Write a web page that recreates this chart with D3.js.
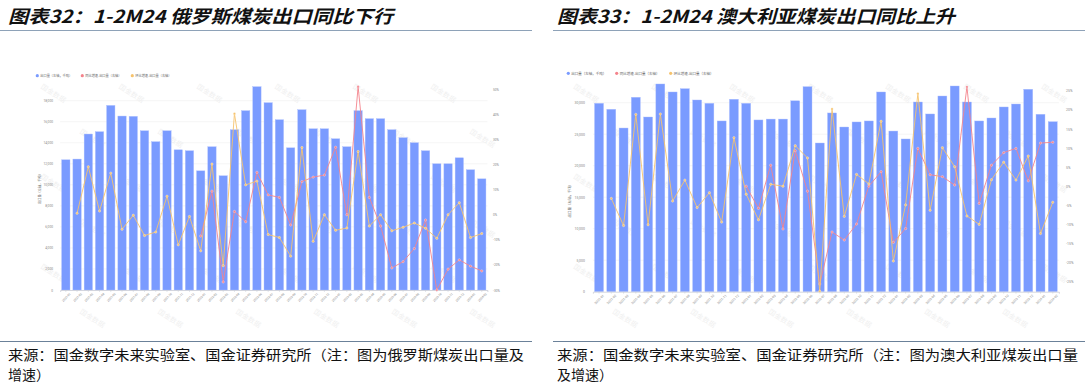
<!DOCTYPE html>
<html>
<head>
<meta charset="utf-8">
<script src="https://cdn.jsdelivr.net/npm/d3@7/dist/d3.min.js"></script>
<style>
body { margin: 0; background: #fff; }
svg text { font-family: "Noto Sans CJK SC", "Noto Sans", sans-serif; }
</style>
</head>
<body>
<div id="chart"></div>
<script>
// months on the x axis (same for both charts)
const months = ["2021-01","2021-02","2021-03","2021-04","2021-05","2021-06","2021-07","2021-08","2021-09","2021-10","2021-11","2021-12",
    "2022-01","2022-02","2022-03","2022-04","2022-05","2022-06","2022-07","2022-08","2022-09","2022-10","2022-11","2022-12",
    "2023-01","2023-02","2023-03","2023-04","2023-05","2023-06","2023-07","2023-08","2023-09","2023-10","2023-11","2023-12",
    "2024-01","2024-02"];

// Russia coal exports, kt
const russiaExport = [12380,12450,14830,15050,17550,16540,16510,15140,14100,15140,13330,13240,
    11330,13620,10860,15240,17050,19330,17810,16190,13520,17140,15330,15330,
    14380,13620,17050,16290,16290,15240,14480,14000,13240,12000,12000,12570,
    11430,10570];
// YoY %, right axis
const russiaYoY = [null,null,null,null,null,null,null,null,null,null,null,null,
    -8.5,9.4,-26.8,1.3,-2.8,16.9,7.9,6.9,-4.1,13.2,15.0,15.8,
    26.9,0.0,51.0,6.9,-4.5,-21.2,-18.7,-13.5,-2.1,-30.0,-21.7,-18.0,
    -20.5,-22.4];
// MoM %, right axis
const russiaMoM = [null,0.6,19.1,1.5,16.6,-5.8,-0.2,-8.3,-6.9,7.4,-12.0,-0.7,
    -14.4,20.2,-20.3,40.3,11.9,13.4,-7.9,-9.1,-16.5,26.8,-10.6,0.0,
    -6.2,-5.3,25.2,-4.5,0.0,-6.4,-5.0,-3.3,-5.4,-9.4,0.0,4.8,
    -9.1,-7.5];

// Australia coal exports, kt
const australiaExport = [29900,28950,25980,30860,27730,32970,31700,32220,30430,29900,27100,30540,
    29900,27260,27400,27400,30300,32540,23600,28370,26140,26940,27100,31700,
    25500,24240,30110,28210,31060,32650,30110,27100,27570,29320,29790,32130,
    28160,26980];
const australiaYoY = [null,null,null,null,null,null,null,null,null,null,null,null,
    0.0,-5.8,5.5,-11.2,9.3,-1.3,-25.6,-12.0,-14.1,-9.9,0.0,3.8,
    -14.7,-11.1,9.9,3.0,2.5,0.3,26.0,-4.5,5.5,8.8,9.9,1.4,
    11.3,11.5];
const australiaMoM = [null,-3.2,-10.3,18.8,-10.1,18.9,-3.9,1.6,-5.6,-1.7,-9.4,12.7,
    -2.1,-8.8,0.5,0.0,10.6,7.4,-27.5,20.2,-7.9,3.1,0.6,17.0,
    -19.6,-4.9,24.2,-6.3,10.1,5.1,-7.8,-10.0,1.7,6.3,1.6,7.9,
    -12.4,-4.2];

// axis ticks
const russiaLeftTicks = [0,2000,4000,6000,8000,10000,12000,14000,16000,18000];
const russiaRightTicks = [-30,-20,-10,0,10,20,30,40,50];
const australiaLeftTicks = [0,5000,10000,15000,20000,25000,30000];
const australiaRightTicks = [-25,-20,-15,-10,-5,0,5,10,15,20,25];

const legendNames = ["出口量（左轴，千吨）", "同比增速-出口量（右轴）", "环比增速-出口量（右轴）"];
const yTitle = "出口量（左轴，千吨）";

const BAR_COLOR = "#7a9bff", YOY_COLOR = "#f4838c", MOM_COLOR = "#f6c36d";

const svg = d3.select("#chart").append("svg")
    .attr("width", 1085)
    .attr("height", 385);

function drawPanel(p) {
    let g = svg.append("g");

    // title + rules
    g.append("text")
        .attr("x", p.px)
        .attr("y", 23)
        .attr("textLength", p.titleLen)
        .attr("lengthAdjust", "spacingAndGlyphs")
        .style("font-size", "18px")
        .style("font-weight", "bold")
        .style("font-style", "italic")
        .style("fill", "#111")
        .text(p.title);
    g.append("line")
        .attr("x1", p.lineX0).attr("x2", p.lineX1)
        .attr("y1", 30.5).attr("y2", 30.5)
        .attr("stroke", "#8ea2b8").attr("stroke-width", 1.2);
    g.append("line")
        .attr("x1", p.lineX0).attr("x2", p.lineX1)
        .attr("y1", 341.5).attr("y2", 341.5)
        .attr("stroke", "#6b8199").attr("stroke-width", 1);
    g.append("text")
        .attr("x", p.px)
        .attr("y", 360)
        .attr("textLength", p.srcLen)
        .attr("lengthAdjust", "spacingAndGlyphs")
        .style("font-size", "14px")
        .style("fill", "#111")
        .text(p.src1);
    g.append("text")
        .attr("x", p.px)
        .attr("y", 380)
        .style("font-size", "14px")
        .style("fill", "#111")
        .text(p.src2);

    // watermarks
    let wm = g.append("g");
    for (let r = 0; r < 6; r++) {
        for (let c = 0; c < 7; c++) {
            let wx = p.x0 - 20 + c * 78 + (r % 2) * 39;
            let wy = 88 + r * 45;
            if (wx > p.x1 + 20) continue;
            wm.append("text")
                .attr("transform", `translate(${wx}, ${wy}) rotate(32)`)
                .style("font-size", "7px")
                .style("fill", "#8a8a8a")
                .style("opacity", 0.13)
                .text("国金数据");
        }
    }

    let x = d3.scaleBand()
        .domain(months)
        .range([p.x0, p.x1])
        .paddingInner(p.pad)
        .paddingOuter(p.pad / 2);
    let yL = d3.scaleLinear().domain(p.leftDomain).range(p.leftRange);
    let yR = d3.scaleLinear().domain(p.rightDomain).range(p.rightRange);

    // gridlines
    g.append("g").selectAll("line")
        .data(p.leftTicks.slice(1))
        .enter()
        .append("line")
        .attr("x1", p.x0).attr("x2", p.x1)
        .attr("y1", d => yL(d)).attr("y2", d => yL(d))
        .attr("stroke", "#efefef").attr("stroke-width", 0.6);

    // left axis
    let axL = g.append("g")
        .attr("transform", `translate(${p.leftLabelX}, 0)`)
        .call(d3.axisLeft(yL).tickValues(p.leftTicks).tickSize(0).tickPadding(0).tickFormat(d3.format(",")));
    axL.select(".domain").remove();
    axL.selectAll("text").style("font-size", p.fs + "px").style("fill", "#888").style("font-family", "Roboto, sans-serif");

    // right axis
    let axR = g.append("g")
        .attr("transform", `translate(${p.rightLabelX}, 0)`)
        .call(d3.axisRight(yR).tickValues(p.rightTicks).tickSize(0).tickPadding(0).tickFormat(d => d + "%"));
    axR.select(".domain").remove();
    axR.selectAll("text").style("font-size", p.fs + "px").style("fill", "#888").style("font-family", "Roboto, sans-serif");

    // bars
    g.append("g").selectAll("rect")
        .data(p.exports)
        .enter()
        .append("rect")
        .attr("x", (d, i) => x(months[i]))
        .attr("y", d => yL(d))
        .attr("width", x.bandwidth())
        .attr("height", d => yL(0) - yL(d))
        .attr("fill", BAR_COLOR)
        .attr("stroke", "#a9bcff")
        .attr("stroke-width", 0.4);

    // x axis
    let axX = g.append("g")
        .attr("transform", `translate(0, ${yL(0)})`)
        .call(d3.axisBottom(x).tickSize(2).tickPadding(1));
    axX.select(".domain").attr("stroke", "#c9ccd6").attr("stroke-width", 0.8);
    axX.selectAll(".tick line").attr("stroke", "#c9ccd6").attr("stroke-width", 0.5);
    axX.selectAll("text")
        .style("font-size", (p.fs - 0.2) + "px")
        .style("fill", "#888")
        .style("font-family", "Roboto, sans-serif")
        .style("text-anchor", "end")
        .attr("transform", "translate(2, 1) rotate(-45)")
        .attr("dy", "0.5em");

    // lines
    let cx = i => x(months[i]) + x.bandwidth() / 2;
    [[p.yoy, YOY_COLOR], [p.mom, MOM_COLOR]].forEach(function(s) {
        let pts = s[0].map((v, i) => ({i: i, v: v})).filter(d => d.v != null);
        g.append("path")
            .datum(pts)
            .attr("fill", "none")
            .attr("stroke", s[1])
            .attr("stroke-width", 0.9)
            .attr("d", d3.line().x(d => cx(d.i)).y(d => yR(d.v)));
        g.append("g").selectAll("circle")
            .data(pts)
            .enter()
            .append("circle")
            .attr("cx", d => cx(d.i))
            .attr("cy", d => yR(d.v))
            .attr("r", 1.2)
            .attr("fill", s[1])
            .attr("stroke", "#fff")
            .attr("stroke-width", 0.3);
    });

    // y title
    g.append("text")
        .attr("transform", `translate(${p.yTitleX}, ${p.yTitleY}) rotate(-90)`)
        .style("text-anchor", "middle")
        .style("font-size", p.fs + "px")
        .style("fill", "#666")
        .text(yTitle);

    // legend
    let colors = [BAR_COLOR, YOY_COLOR, MOM_COLOR];
    legendNames.forEach(function(name, i) {
        g.append("circle")
            .attr("cx", p.legendX[i])
            .attr("cy", p.legendY)
            .attr("r", 1.6)
            .attr("fill", colors[i]);
        g.append("text")
            .attr("x", p.legendX[i] + 3)
            .attr("y", p.legendY + p.fs * 0.36)
            .style("font-size", p.fs + "px")
            .style("fill", "#666")
            .text(name);
    });
}

drawPanel({
    px: 8, titleLen: 385, lineX0: 0, lineX1: 532, srcLen: 516,
    title: "图表32：1-2M24 俄罗斯煤炭出口同比下行",
    src1: "来源：国金数字未来实验室、国金证券研究所（注：图为俄罗斯煤炭出口量及",
    src2: "增速）",
    x0: 60.2, x1: 487.4, pad: 0.26,
    leftDomain: [0, 18000], leftRange: [290, 100.7],
    rightDomain: [-30, 50], rightRange: [290, 89.3],
    leftTicks: russiaLeftTicks, rightTicks: russiaRightTicks,
    leftLabelX: 53, rightLabelX: 493, fs: 3.2,
    exports: russiaExport, yoy: russiaYoY, mom: russiaMoM,
    yTitleX: 41, yTitleY: 188,
    legendX: [37.3, 82.3, 132.3], legendY: 75.7
});

drawPanel({
    px: 557, titleLen: 398, lineX0: 553, lineX1: 1085, srcLen: 521,
    title: "图表33：1-2M24 澳大利亚煤炭出口同比上升",
    src1: "来源：国金数字未来实验室、国金证券研究所（注：图为澳大利亚煤炭出口量",
    src2: "及增速）",
    x0: 592.9, x1: 1058.9, pad: 0.27,
    leftDomain: [0, 30000], leftRange: [291.7, 102.7],
    rightDomain: [-25, 25], rightRange: [281.7, 90.7],
    leftTicks: australiaLeftTicks, rightTicks: australiaRightTicks,
    leftLabelX: 585, rightLabelX: 1066, fs: 3.5,
    exports: australiaExport, yoy: australiaYoY, mom: australiaMoM,
    yTitleX: 571, yTitleY: 200,
    legendX: [568.3, 616.7, 670.7], legendY: 73.3
});
</script>
</body>
</html>
